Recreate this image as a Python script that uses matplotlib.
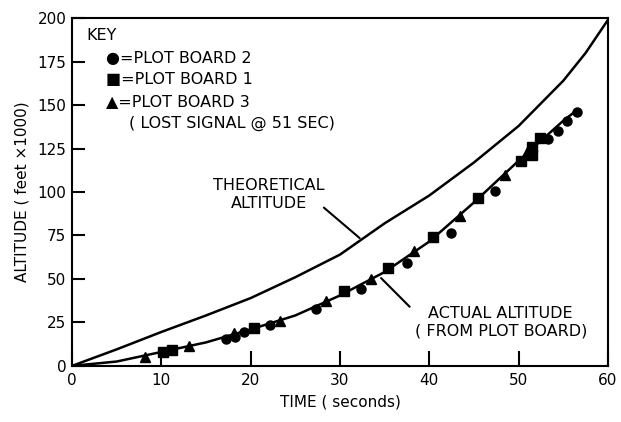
import numpy as np
import matplotlib
matplotlib.use('Agg')
import matplotlib.pyplot as plt

# theoretical altitude curve (feet x 1000)
theoTime = [0, 5, 10, 15, 20, 25, 30, 35, 40, 45, 50, 55, 57.5, 60]
theoAlt = [0, 9.5, 19.5, 29, 39, 51, 64, 82, 98, 117, 138, 164, 180, 199]

# actual altitude fitted curve
actTime = [0, 5, 10, 15, 20, 25, 30, 35, 40, 45, 50, 55, 56.5]
actAlt = [0, 2.5, 8, 13.5, 21, 29, 40.5, 54, 71.5, 94, 118, 141, 147]

# plot board 2 (circles)
pb2Time = [17.2, 18.2, 19.3, 22.2, 27.3, 32.4, 37.5, 42.4, 47.4, 53.3, 54.4, 55.4, 56.5]
pb2Alt = [15.3, 16.5, 19.2, 23.6, 32.6, 44.0, 59.0, 76.6, 100.6, 130.3, 135.2, 140.8, 146.0]

# plot board 1 (squares)
pb1Time = [10.2, 11.2, 20.4, 30.4, 35.4, 40.4, 45.4, 50.3, 51.5, 51.5, 52.4]
pb1Alt = [8.2, 9.0, 21.5, 43.0, 56.1, 74.3, 96.4, 118.0, 121.0, 125.7, 131.0]

# plot board 3 (triangles), lost signal at 51 sec
pb3Time = [8.2, 13.1, 18.1, 23.3, 28.4, 33.5, 38.3, 43.4, 48.5, 51.0]
pb3Alt = [5.0, 11.3, 18.8, 26.0, 37.5, 49.8, 66.3, 86.2, 110.0, 124.0]

fig = plt.figure(figsize=(6.21, 4.22), dpi=100)
ax = fig.add_axes([0.116, 0.133, 0.863, 0.824])

ax.plot(theoTime, theoAlt, color='black', lw=1.8)
ax.plot(actTime, actAlt, color='black', lw=1.8)
ax.plot(pb2Time, pb2Alt, 'o', color='black', ms=6.5)
ax.plot(pb1Time, pb1Alt, 's', color='black', ms=6.5)
ax.plot(pb3Time, pb3Alt, '^', color='black', ms=7)

ax.set_xlim(0, 60)
ax.set_ylim(0, 200)
ax.set_xticks(np.arange(0, 61, 10))
ax.set_yticks(np.arange(0, 201, 25))
ax.tick_params(axis='x', direction='in', length=11, width=1.5, labelsize=11, pad=5)
ax.tick_params(axis='y', direction='in', length=9, width=1.5, labelsize=11, pad=4)
for s in ax.spines.values():
    s.set_linewidth(1.5)

ax.set_xlabel('TIME ( seconds)', fontsize=11, labelpad=5)
ax.set_ylabel('ALTITUDE ( feet \u00d71000)', fontsize=11, labelpad=6)

# key
ax.text(1.6, 190, 'KEY', fontsize=11.5, ha='left', va='center')
ax.text(3.8, 177, '\u25cf=PLOT BOARD 2', fontsize=11.5, ha='left', va='center')
ax.text(3.8, 164.5, '\u25a0=PLOT BOARD 1', fontsize=11.5, ha='left', va='center')
ax.text(3.8, 152, '\u25b2=PLOT BOARD 3', fontsize=11.5, ha='left', va='center')
ax.text(6.4, 139.5, '( LOST SIGNAL @ 51 SEC)', fontsize=11.5, ha='left', va='center')

# curve labels with leader lines
ax.text(22.0, 98.5, 'THEORETICAL\nALTITUDE', fontsize=11.5, ha='center', va='center',
        linespacing=1.25)
ax.annotate('', xy=(32.2, 73.5), xytext=(28.2, 91),
            arrowprops=dict(arrowstyle='-', color='black', lw=1.5, shrinkA=0, shrinkB=0))
ax.text(48.0, 25, 'ACTUAL ALTITUDE\n( FROM PLOT BOARD)', fontsize=11.5, ha='center',
        va='center', linespacing=1.25)
ax.annotate('', xy=(34.6, 50.5), xytext=(37.8, 34),
            arrowprops=dict(arrowstyle='-', color='black', lw=1.5, shrinkA=0, shrinkB=0))

fig.savefig('out.png', dpi=100)
